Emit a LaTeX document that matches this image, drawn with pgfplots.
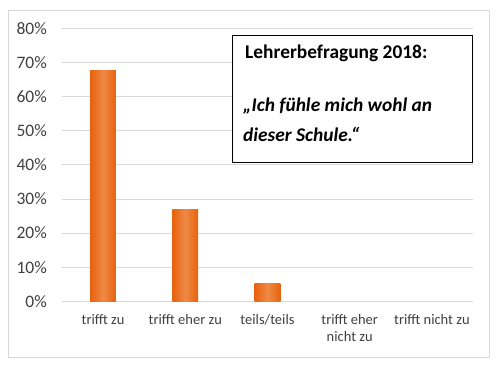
\documentclass[border=0pt]{standalone}
\usepackage{pgfplots}
\pgfplotsset{compat=1.18}
\usepackage{fontspec}
\setmainfont{Carlito}
\definecolor{barEdge}{RGB}{232,98,14}
\definecolor{barMid}{RGB}{238,138,70}
\definecolor{gridc}{RGB}{217,217,217}
\definecolor{ticktext}{RGB}{64,64,64}
\begin{document}
\begin{tikzpicture}
\path (0,0) rectangle (500bp,367bp);
\draw[gridc, line width=0.8bp] (8bp,10bp) rectangle (489bp,357bp);
\begin{axis}[
  at={(62bp,65.7bp)}, anchor=south west,
  scale only axis, width=411bp, height=273bp,
  xmin=-0.5, xmax=4.5, ymin=0, ymax=80,
  enlarge x limits=false,
  ytick={0,10,...,80},
  yticklabel={\pgfmathprintnumber{\tick}\%},
  /pgf/number format/assume math mode=true,
  ymajorgrids, grid style={gridc, line width=0.8bp},
  axis line style={draw=none},
  major tick length=0pt,
  xtick={0,1,2,3,4},
  xticklabels={trifft zu, trifft eher zu, teils/teils, {trifft eher\\nicht zu}, trifft nicht zu},
  xticklabel style={font=\fontsize{14.5bp}{17bp}\selectfont, text=ticktext, align=center, inner sep=0pt, anchor=north, yshift=-13bp},
  yticklabel style={font=\fontsize{17.5bp}{20bp}\selectfont, text=ticktext, inner sep=0pt, anchor=east, xshift=-15bp},
  clip=false,
  mybar/.style={ybar, mark=none, bar width=25.7bp, bar shift=0pt, draw=none, left color=barEdge, right color=barEdge, middle color=barMid},
]
\addplot[mybar] coordinates {(0,67.5)};
\addplot[mybar] coordinates {(1,27.0)};
\addplot[mybar] coordinates {(2,5.3)};
\end{axis}
\draw[black, line width=1bp, fill=white] (232bp,204bp) rectangle (472bp,331bp);
\node[anchor=base west, inner sep=0pt, font=\fontsize{19.4bp}{23bp}\selectfont\bfseries] at (245bp,308bp) {Lehrerbefragung 2018:};
\node[anchor=base west, inner sep=0pt, font=\fontsize{19.4bp}{23bp}\selectfont\bfseries\itshape] at (243bp,255bp) {„Ich fühle mich wohl an};
\node[anchor=base west, inner sep=0pt, font=\fontsize{19.4bp}{23bp}\selectfont\bfseries\itshape] at (243bp,225bp) {dieser Schule.“};
\end{tikzpicture}
\end{document}
